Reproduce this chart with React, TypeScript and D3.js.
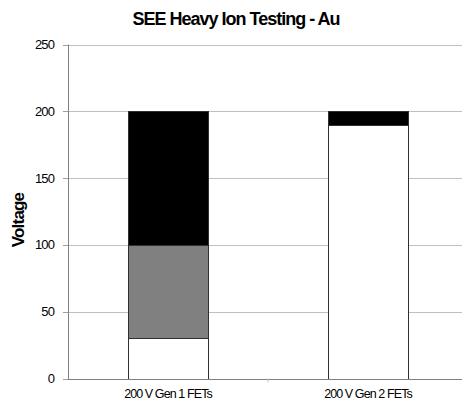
import React from "react";
import * as d3 from "d3";

const categories = ["200 V Gen 1 FETs", "200 V Gen 2 FETs"];
const seriesNames = ["low", "mid", "high"];
const lowValues = [30, 190];
const midValues = [70, 0];
const highValues = [100, 10];
const yTicks = [0, 50, 100, 150, 200, 250];
const seriesFills = ["#ffffff", "#808080", "#000000"];

const W = 462;
const H = 404;
const left = 68;
const top = 44.5;
const bottom = 378.5;
const rightEdge = 468;

export default function App() {
  const rows = categories.map((c, i) => ({
    cat: c,
    low: lowValues[i],
    mid: midValues[i],
    high: highValues[i],
  }));
  const stack = d3.stack<any>().keys(seriesNames);
  const stacked = stack(rows);
  const x = d3.scaleBand().domain(categories).range([left, rightEdge]).paddingInner(0).paddingOuter(0);
  const y = d3.scaleLinear().domain([0, 250]).range([bottom, top]);
  const bw = x.bandwidth() * 0.4;

  return (
    <svg
      width={W}
      height={H}
      style={{ position: "absolute", left: 0, top: 0, background: "#fff", fontFamily: "'Liberation Sans', Arial, sans-serif" }}
    >
      <text x={236} y={25} textAnchor="middle" fontSize={18} fontWeight="bold" letterSpacing={-1.0}>
        SEE Heavy Ion Testing - Au
      </text>
      {yTicks.map((t) => (
        <g key={t}>
          {t > 0 && (
            <line x1={left} x2={W} y1={Math.round(y(t)) + 0.5} y2={Math.round(y(t)) + 0.5} stroke="#c0c0c0" strokeWidth={1} />
          )}
          <line x1={left - 5} x2={left} y1={Math.round(y(t)) + 0.5} y2={Math.round(y(t)) + 0.5} stroke="#a0a0a0" />
          <text x={54} y={y(t) + 4.5} textAnchor="end" fontSize={13} letterSpacing={-0.9} fill="#000">
            {t}
          </text>
        </g>
      ))}
      {stacked.map((s, si) =>
        s.map((d, i) => {
          if (d[1] - d[0] <= 0) return null;
          const cx = (x(categories[i]) as number) + x.bandwidth() / 2;
          return (
            <rect
              key={si + "-" + i}
              x={Math.round(cx - bw / 2) + 0.5}
              y={Math.round(y(d[1])) + 0.5}
              width={Math.round(bw)}
              height={Math.round(y(d[0])) - Math.round(y(d[1]))}
              fill={seriesFills[si]}
              stroke="#303030"
              strokeWidth={1}
            />
          );
        })
      )}
      <line x1={left + 0.5} x2={left + 0.5} y1={top} y2={bottom + 1} stroke="#808080" />
      <line x1={left} x2={W} y1={Math.round(bottom) + 0.5} y2={Math.round(bottom) + 0.5} stroke="#808080" />
      {[1].map((k) => {
        const tx = (x(categories[k]) as number);
        return <line key={k} x1={tx} x2={tx} y1={bottom} y2={bottom + 4} stroke="#c0c0c0" />;
      })}
      {categories.map((c) => (
        <text
          key={c}
          x={(x(c) as number) + x.bandwidth() / 2}
          y={398}
          textAnchor="middle"
          fontSize={12.5}
          letterSpacing={-0.9}
        >
          {c}
        </text>
      ))}
      <text
        transform={`translate(24, 220) rotate(-90)`}
        textAnchor="middle"
        fontSize={17}
        fontWeight="bold"
        letterSpacing={-0.8}
      >
        Voltage
      </text>
    </svg>
  );
}
